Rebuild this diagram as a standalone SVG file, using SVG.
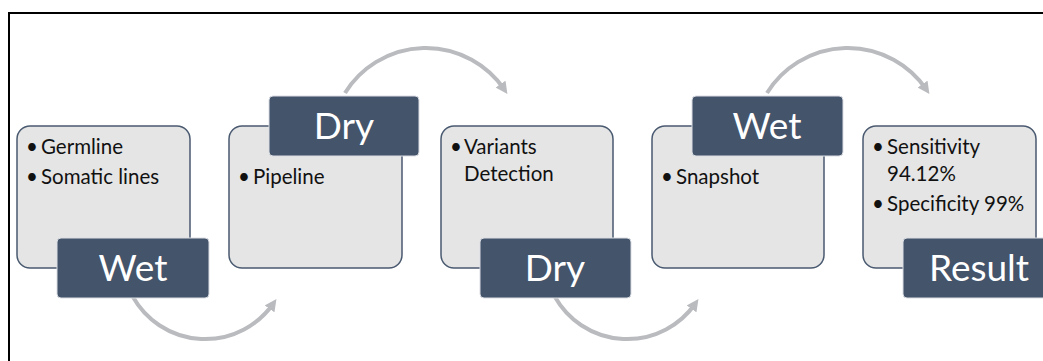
<svg xmlns="http://www.w3.org/2000/svg" width="1043" height="361" viewBox="0 0 1043 361">
<defs>
<style>
.box{fill:#e5e5e5;stroke:#4a5a70;stroke-width:1.5}
.lab{fill:#44546a;stroke:#d9dde3;stroke-width:1}
.bt{font-family:Lato,"Liberation Sans",sans-serif;font-size:20.5px;fill:#111}
.lt{font-family:Lato,"Liberation Sans",sans-serif;font-size:37px;fill:#fff;text-anchor:middle}
.arc{fill:none;stroke:#b9bbbf;stroke-width:4;marker-end:url(#ah)}
</style>
<marker id="ah" viewBox="0 0 10 10" refX="5" refY="5" markerWidth="3" markerHeight="3" orient="auto" markerUnits="strokeWidth">
<path d="M0,0 L10,5 L0,10 z" fill="#b9bbbf"/>
</marker>
</defs>
<rect width="1043" height="361" fill="#fff"/>
<path d="M9,361 V13 H1043" fill="none" stroke="#000" stroke-width="2"/>
<g id="connectors">
<path class="arc" d="M133,297 A83,83 0 0 0 273,304"/>
<path class="arc" d="M345,93 A95,95 0 0 1 504,89"/>
<path class="arc" d="M555,297 A83,83 0 0 0 695,304"/>
<path class="arc" d="M767,93 A95,95 0 0 1 926,89"/>
</g>
<g id="node1">
<rect class="box" x="17" y="126" width="173" height="142" rx="13"/>
<text class="bt" x="26" y="154">•</text><text class="bt" x="41" y="154">Germline</text>
<text class="bt" x="26" y="184">•</text><text class="bt" x="41" y="184">Somatic lines</text>
<rect class="lab" x="57" y="238" width="152" height="60" rx="4"/>
<text class="lt" x="133" y="281">Wet</text>
</g>
<g id="node2">
<rect class="box" x="229" y="126" width="173" height="142" rx="13"/>
<text class="bt" x="238" y="184">•</text><text class="bt" x="253" y="184">Pipeline</text>
<rect class="lab" x="269" y="96" width="150" height="60" rx="4"/>
<text class="lt" x="344" y="139">Dry</text>
</g>
<g id="node3">
<rect class="box" x="441" y="126" width="172" height="142" rx="13"/>
<text class="bt" x="450" y="154">•</text><text class="bt" x="464" y="154">Variants</text>
<text class="bt" x="464" y="181">Detection</text>
<rect class="lab" x="480" y="238" width="151" height="60" rx="4"/>
<text class="lt" x="555" y="281">Dry</text>
</g>
<g id="node4">
<rect class="box" x="652" y="126" width="172" height="142" rx="13"/>
<text class="bt" x="661" y="184">•</text><text class="bt" x="676" y="184">Snapshot</text>
<rect class="lab" x="692" y="96" width="151" height="60" rx="4"/>
<text class="lt" x="767" y="139">Wet</text>
</g>
<g id="node5">
<rect class="box" x="863" y="126" width="173" height="142" rx="13"/>
<text class="bt" x="872" y="154">•</text><text class="bt" x="887" y="154">Sensitivity</text>
<text class="bt" x="887" y="181">94.12%</text>
<text class="bt" x="872" y="211">•</text><text class="bt" x="887" y="211">Specificity 99%</text>
<rect class="lab" x="903" y="238" width="151" height="60" rx="4"/>
<text class="lt" x="979" y="281">Result</text>
</g>
</svg>
